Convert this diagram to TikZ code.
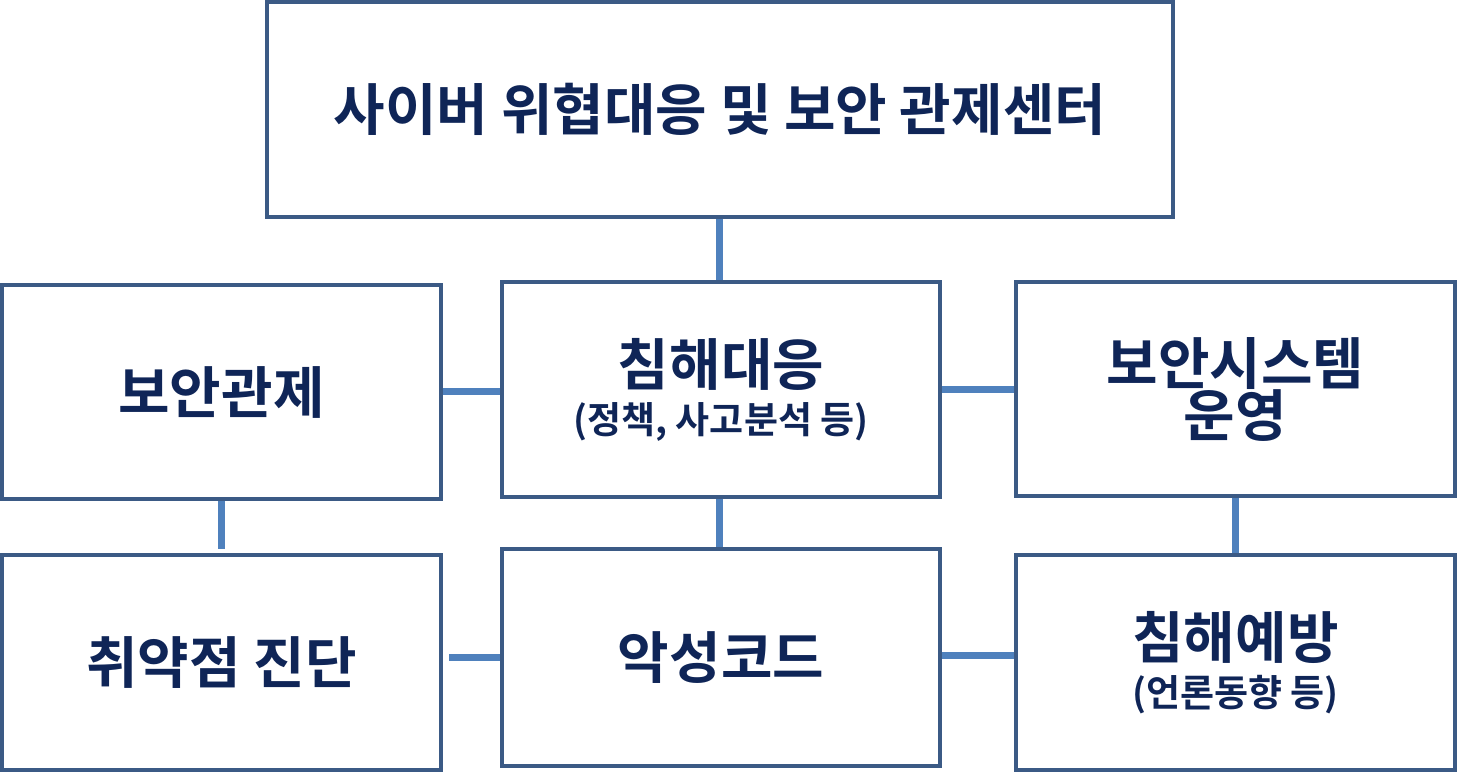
\documentclass[tikz,border=0pt]{standalone}
\usepackage{fontspec}
\setmainfont{Noto Sans CJK KR}[BoldFont={Noto Sans CJK KR Bold}]
\definecolor{bx}{HTML}{3B5A85}
\definecolor{ln}{HTML}{4F81BD}
\definecolor{tx}{HTML}{0F2557}
\begin{document}
\begin{tikzpicture}[x=1pt,y=-1pt,
 box/.style={draw=bx,line width=3.2pt,text=tx,font=\bfseries\fontsize{56}{60}\selectfont,align=center},
 conn/.style={draw=ln,line width=7pt}]
\useasboundingbox (0,0) rectangle (1457,772);
\def\sml{\fontsize{37}{40}\selectfont}
\node[box,minimum width=906pt,minimum height=215pt] (top) at (720,109.5) {사이버 위협대응 및 보안 관제센터};
\node[box,minimum width=439pt,minimum height=214pt] (lm) at (221.5,392) {보안관제};
\node[box,minimum width=438pt,minimum height=215pt] (cm) at (721,389.5) {침해대응\\[-12pt]{\sml (정책, 사고분석 등)}};
\node[box,minimum width=439pt,minimum height=214pt] (rm) at (1235.5,389) {보안시스템\\[-8pt]운영};
\node[box,minimum width=439pt,minimum height=215pt] (lb) at (221.5,662.5) {취약점 진단};
\node[box,minimum width=438pt,minimum height=217pt] (cb) at (721,657.5) {악성코드};
\node[box,minimum width=439pt,minimum height=215pt] (rb) at (1235.5,662.5) {침해예방\\[-12pt]{\sml (언론동향 등)}};
\coordinate (gl) at (221,549);
\coordinate (bl) at (449,657);
\draw[conn] (top.south -| 719,0) -- (cm.north -| 719,0);
\draw[conn] (lm.east |- 0,391) -- (cm.west |- 0,391);
\draw[conn] (cm.east |- 0,389) -- (rm.west |- 0,389);
\draw[conn] (lm.south -| gl) -- (gl);
\draw[conn] (cm.south -| 719,0) -- (cb.north -| 719,0);
\draw[conn] (rm.south -| 1235,0) -- (rb.north -| 1235,0);
\draw[conn] (bl) -- (cb.west |- bl);
\draw[conn] (cb.east |- 0,655) -- (rb.west |- 0,655);
\end{tikzpicture}
\end{document}
